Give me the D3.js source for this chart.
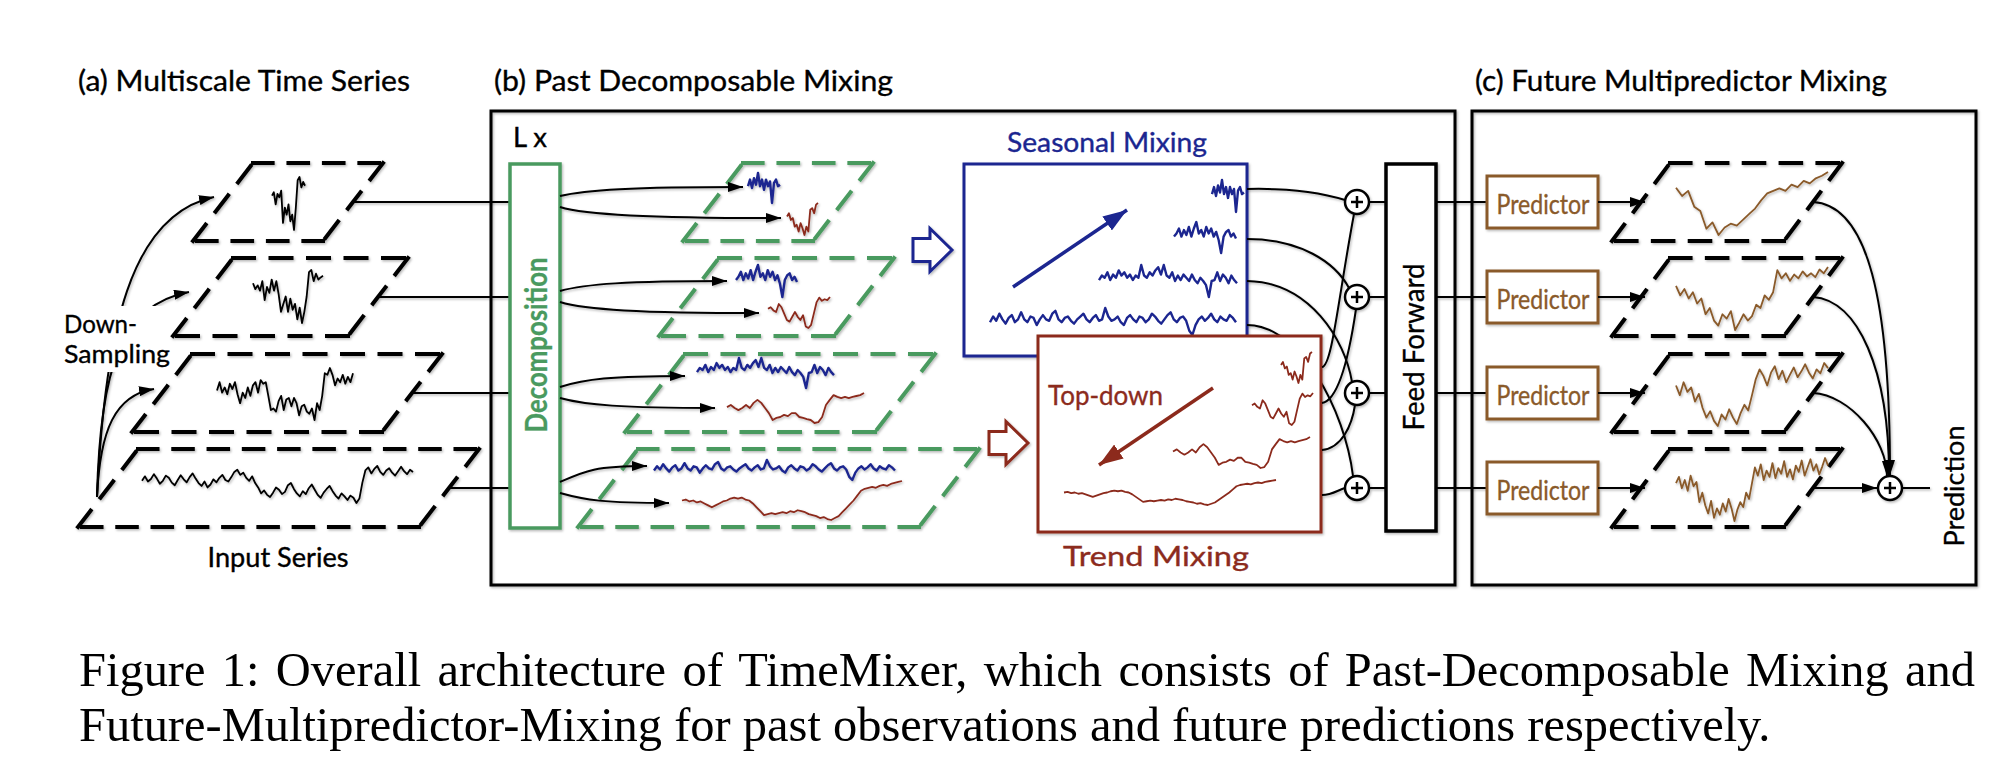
<!DOCTYPE html>
<html>
<head>
<meta charset="utf-8">
<script src="https://cdn.jsdelivr.net/npm/d3@7"></script>
<style>
  html, body { margin: 0; padding: 0; background: #fff; }
  svg { display: block; }
</style>
</head>
<body>
<svg id="fig" width="1992" height="768"></svg>
<script>
// ---------------------------------------------------------------
// Series (arbitrary units, higher = up)
// ---------------------------------------------------------------

// (a) input series, coarsest -> finest
const inputScale1 = [6.6,7.2,5,6.9,6.3,7.5,1.6,4.4,3.1,5,1.9,3.1,0.3,4.4,9.4,10,8.1,9.1,8.4];
const inputScale2 = [7.5,6.4,7.1,6.1,7.9,4.3,6.8,5.7,8.2,6.1,7.9,5.4,2.1,3.6,5,2.1,4.6,2.5,3.6,0.7,2.9,0,2.1,5,9.6,10,7.9,9.3,8.2,8.6,8.9];
const inputScale3 = [5.7,7.3,5.3,6.3,5,7,6,7.3,5,3.3,5.3,4.3,6.3,4.7,6.7,7.3,5.3,7.7,7,7.3,4.7,2,2.3,1.7,3.7,4.7,2,4,4.3,2.7,4.3,3.3,1,2.7,3,1.7,1.3,2.3,0.1,3.3,2,4.7,9,8.7,10,8.7,6.7,8,7.3,8.7,7,8.3,7.3,9];
const inputScale4 = [6,7.2,5.8,6.5,7.8,6.6,5.2,6,7.4,6.8,5.5,4.8,6.2,7.5,6.4,5.6,7,8,6.6,5.4,
  4.6,5.8,4.2,5,6.4,5.6,6.8,7.6,6.2,5.8,7,8.4,9,7.6,8.2,6.8,6,7.2,5.4,4.2,
  2.6,3.4,2.2,1.6,2.8,4.2,3.6,2.4,3,4.8,5.4,3.8,2.6,1.8,3.2,2.4,4,5,3.6,2.2,
  1.4,2.8,3.8,4.6,3.2,2,1.2,2.6,1.8,0.8,2,1.4,0,1.2,
  5.5,8.8,9.6,8,9.2,10,8.4,7.6,8.8,9.4,8.2,7.4,8.6,9.8,8.6,7.8,9,8.4];

// (b) seasonal parts (blue)
const seasonal1 = [5.6,7.8,5,8.3,6.1,10,5.6,7.8,4.4,7.8,5.6,7.2,0,6.7,7.8,5.6,6.1];
const seasonal2 = [5.3,6.3,7.9,5.3,7.4,5.8,8.4,5.3,7.9,10,6.3,7.4,5.3,8.4,6.3,7.9,5.3,6.8,4.2,0,5.3,6.8,7.4,5.3,6.3,4.7];
const seasonal3 = [5.3,6.7,6,7.7,5.3,7,6,8.3,6.7,7.7,6,7,5.3,6.7,6,10,6.7,6,7.7,6.7,8.3,9.3,7,10,6.7,6,7.7,5,6.7,5.3,7,6,5,7,5.3,4.3,6,5,3.7,0,5,5.3,7.7,5,7,6,4.3,6.7,5.3,4.3];
const seasonal4 = [5,7,5.5,8,6,4.5,6.5,7.5,5,6,8.5,6,5,7,6.5,4,6,7.5,6,5.5,8,9,6,5,6.5,7,5.5,4.5,6,7,8,6,5,6.5,7.5,5.5,6,10,7,5.5,6,7,5,4,6.5,7.5,6,5,7,6.5,5,6,8,7,5.5,4.5,6,7.5,8.5,6,5,6.5,7,5.5,2,0.5,4,6,7,5.5,6.5,8,6,5,7,6,5.5,7.5,6.5,5];

// (b) trend parts (red)
const trend1 = [5.8,6.8,4.7,5.3,2.6,3.2,1.1,3.7,2.1,0,2.6,1.1,7.9,8.4,6.8,9.5,10];
const trend2 = [6,6.5,5.5,5,7.5,6.5,4.5,2.5,2,3.5,5,3.5,2.5,4,0.5,0,1,4.5,8,9.5,8.5,9,8.7,9.7];
const trend3 = [5.3,6,5,4.3,5,6,5,6.7,7.7,6.7,5,3.3,1,1.7,2,2.7,2.3,3.3,3.3,2,1.7,1.3,1,0,0.3,2,6,7.7,9.3,8.7,8.3,8.7,8.3,8.7,9,9.3,10];
const trend4 = [5.25,5.5,5,5.25,4.75,5,4.5,4,3.5,4,4.5,5,5.25,5.75,6,5.75,6,5.5,5.25,4.5,3.5,2.5,1.5,1.75,2,1.75,2,2.25,2,2.5,2.25,2.75,2.5,2.25,1.75,1.5,1.25,0.75,1,0.5,0.25,0.75,1.25,2.25,3.25,4.25,5.25,6.5,7.75,8.25,8.5,8.75,8.5,9,9.25,9,9.5,9.75,10,10.25];

// (c) predictions (brown)
const prediction1 = [7.5,6.2,7,4.5,3.8,1,2,0,1.2,1.8,1.5,2.4,3.3,4.2,5.5,6.6,7,7.4,7,8,7.6,8.6,8.2,9,9.4,10];
const prediction2 = [7,5.5,6.5,5,6,4.2,5,2.5,3.5,1.5,0.7,2.5,1.8,3,0,1.2,2.5,1.5,2.2,4,3.5,5.5,4.8,6,9.5,8.2,9,7.8,8.8,8.2,9.3,8.5,9,8.4,9.6,9,10];
const prediction3 = [6.5,5,7,5.5,6.2,4,5.2,3,1.5,2.5,1,0.2,2,1.2,2.8,1.5,0.5,2.2,3.5,2.6,5,7.5,9,8,6.5,8.5,9.5,7.5,8.8,7,8.2,9.3,7.8,8.7,9.8,8.5,7.6,9,8.4,10,9.2];
const prediction4 = [6,7,5.2,6.5,4.8,7.2,5.5,6.2,3,4.5,2.5,1.2,3.2,0.5,2,1,2.8,1.5,3.5,2,0,1.8,3,2.2,4.5,3.5,6,8.5,7.2,9,6.5,8,7,9.2,6.8,8.4,7.5,9.5,7,8.2,6.6,8.8,7.8,9.6,7.2,8.5,9.8,8,9,7.4,8.6,10,8.8];

const inputSeries = [inputScale1, inputScale2, inputScale3, inputScale4];
const seasonalSeries = [seasonal1, seasonal2, seasonal3, seasonal4];
const trendSeries = [trend1, trend2, trend3, trend4];
const predictionSeries = [prediction1, prediction2, prediction3, prediction4];

// labels
const panelTitles = ["(a) Multiscale Time Series", "(b) Past Decomposable Mixing", "(c) Future Multipredictor Mixing"];
const captionLines = [
  "Figure 1: Overall architecture of TimeMixer, which consists of Past-Decomposable Mixing and",
  "Future-Multipredictor-Mixing for past observations and future predictions respectively."
];

// ---------------------------------------------------------------
// Layout
// ---------------------------------------------------------------
const GREEN = "#4a9a5f", BLUE = "#1b2690", RED = "#8c2b1d", BROWN = "#8a5a2a";
const FONT = "Lato, 'Open Sans', 'DejaVu Sans', sans-serif";

const rowY = [202, 297, 393, 488];
const parH = 78, shear = 60;
const aWidths = [130, 175, 250, 341];
const aLeft = [193, 173, 132, 78];
const bLeft = [683, 659, 625, 578];
const cLeft = 1612, cWidth = 172, cShear = 58;

// boxes where each little series is drawn: [x0, x1, yTop, yBottom]
const aBox = [[272,305,177,230],[253,323,270,323],[217,353,368,420],[142,413,466,503]];
const bBlueBox = [[748,780,173,203],[736,797,265,297],[697,834,358,388],[654,895,460,480]];
const bRedBox = [[787,818,203,235],[768,830,297,328],[727,864,393,423],[682,902,481,520]];
const sBox = [[1212,1244,180,212],[1174,1236,222,253],[1099,1237,265,297],[990,1236,308,335]];
const tBox = [[1281,1312,352,383],[1252,1313,393,425],[1173,1310,437,468],[1064,1276,480,505]];

const svg = d3.select("#fig");
const defs = svg.append("defs");

defs.append("filter").attr("id", "shadow")
  .attr("x", "-20%").attr("y", "-20%").attr("width", "140%").attr("height", "140%")
  .append("feDropShadow")
  .attr("dx", 1.2).attr("dy", 1.5).attr("stdDeviation", 1.2)
  .attr("flood-color", "#000").attr("flood-opacity", 0.28);

function marker(id, color, len, wid) {
  defs.append("marker").attr("id", id)
    .attr("viewBox", `0 0 ${len} ${wid}`)
    .attr("refX", len).attr("refY", wid / 2)
    .attr("markerWidth", len).attr("markerHeight", wid)
    .attr("markerUnits", "userSpaceOnUse")
    .attr("orient", "auto")
    .append("path")
    .attr("d", `M0,0L${len},${wid / 2}L0,${wid}Z`)
    .attr("fill", color);
}
marker("arrowK", "#000", 15, 10);
marker("arrowB", BLUE, 24, 17);
marker("arrowR", RED, 24, 17);

// helpers ---------------------------------------------------------
function drawSeries(g, values, box, color, width) {
  const [x0, x1, y0, y1] = box;
  const x = d3.scaleLinear().domain([0, values.length - 1]).range([x0, x1]);
  const y = d3.scaleLinear().domain(d3.extent(values)).range([y1, y0]);
  g.append("path")
    .datum(values)
    .attr("d", d3.line().x((d, i) => x(i)).y(d => y(d)))
    .attr("fill", "none")
    .attr("stroke", color)
    .attr("stroke-width", width)
    .attr("stroke-linejoin", "round");
}

function dashedEdge(g, p, q, color, w) {
  const L = Math.hypot(q[0] - p[0], q[1] - p[1]);
  const d0 = 24, g0 = 12;
  const n = Math.max(1, Math.round((L - d0) / (d0 + g0)));
  const k = L / (n * (d0 + g0) + d0);
  g.append("line")
    .attr("x1", p[0]).attr("y1", p[1])
    .attr("x2", q[0]).attr("y2", q[1])
    .attr("stroke", color)
    .attr("stroke-width", w)
    .attr("stroke-linecap", "square")
    .attr("stroke-dasharray", `${d0 * k - w} ${g0 * k + w}`);
}

function parallelogram(g, xBL, yC, w, sh, color) {
  const top = yC - parH / 2, bot = yC + parH / 2;
  const pts = [[xBL + sh, top], [xBL + sh + w, top], [xBL + w, bot], [xBL, bot]];
  for (let i = 0; i < 4; i++) dashedEdge(g, pts[i], pts[(i + 1) % 4], color, 4);
}

// text with a given font size, squeezed/stretched to the width seen in the figure
function label(g, text, x, y, size, target, color, opts = {}) {
  const t = g.append("text")
    .attr("x", opts.rotate ? 0 : x)
    .attr("y", opts.rotate ? 0 : y)
    .attr("font-family", FONT)
    .attr("font-size", size)
    .attr("font-weight", opts.weight || 400)
    .attr("fill", color)
    .attr("stroke", color)
    .attr("stroke-width", opts.stroke ?? 0.35)
    .attr("text-anchor", opts.anchor || "start")
    .attr("textLength", target)
    .attr("lengthAdjust", "spacingAndGlyphs")
    .text(text);
  if (opts.rotate) {
    t.attr("transform", `translate(${x},${y}) rotate(-90)`)
     .attr("dominant-baseline", "central");
  }
  if (opts.central) t.attr("dominant-baseline", "central");
  return t;
}

function curve(g, p0, p1, p2, p3, mk, color = "#000", w = 2) {
  const path = d3.path();
  path.moveTo(...p0);
  path.bezierCurveTo(...p1, ...p2, ...p3);
  const el = g.append("path")
    .attr("d", path.toString())
    .attr("fill", "none")
    .attr("stroke", color)
    .attr("stroke-width", w);
  if (mk) el.attr("marker-end", `url(#${mk})`);
  return el;
}

function blockArrow(g, x, yC, color) {
  const pts = [[x, yC - 11.5], [x + 17, yC - 11.5], [x + 17, yC - 21.5], [x + 39, yC],
               [x + 17, yC + 21.5], [x + 17, yC + 11.5], [x, yC + 11.5]];
  g.append("path")
    .attr("d", d3.line()(pts) + "Z")
    .attr("fill", "#fff").attr("stroke", color).attr("stroke-width", 3)
    .attr("stroke-linejoin", "miter");
}

function plusCircle(g, cx, cy) {
  g.append("circle").attr("cx", cx).attr("cy", cy).attr("r", 12)
    .attr("fill", "#fff").attr("stroke", "#000").attr("stroke-width", 2.5);
  g.append("path")
    .attr("d", `M${cx - 6},${cy}H${cx + 6}M${cx},${cy - 6}V${cy + 6}`)
    .attr("stroke", "#000").attr("stroke-width", 2.5);
}

const shapes = svg.append("g").attr("filter", "url(#shadow)");
const texts = svg.append("g");

// ---------------------------------------------------------------
// Panel frames
// ---------------------------------------------------------------
shapes.append("rect").attr("x", 491).attr("y", 111).attr("width", 964).attr("height", 474)
  .attr("fill", "none").attr("stroke", "#000").attr("stroke-width", 3);
shapes.append("rect").attr("x", 1472).attr("y", 111).attr("width", 504).attr("height", 474)
  .attr("fill", "none").attr("stroke", "#000").attr("stroke-width", 3);

label(texts, panelTitles[0], 78, 91, 29, 332, "#000");
label(texts, panelTitles[1], 494, 91, 29, 399, "#000");
label(texts, panelTitles[2], 1475, 91, 29, 412, "#000");

// ---------------------------------------------------------------
// (a) Multiscale time series
// ---------------------------------------------------------------
const down = shapes.append("g");
curve(down, [97, 497], [105, 330], [130, 215], [214, 197], "arrowK");
curve(down, [97, 497], [100, 370], [120, 305], [189, 292], "arrowK");
curve(down, [97, 497], [100, 430], [115, 395], [154, 389], "arrowK");
svg.append("rect").attr("x", 60).attr("y", 306).attr("width", 113).attr("height", 66).attr("fill", "#fff");
label(svg, "Down-", 64, 333, 25, 73, "#000");
label(svg, "Sampling", 64, 363, 25, 106, "#000");

const aG = svg.append("g").attr("filter", "url(#shadow)");
inputSeries.forEach((vals, i) => {
  parallelogram(aG, aLeft[i], rowY[i], aWidths[i], shear, "#000");
  drawSeries(aG, vals, aBox[i], "#000", 1.8);
  // link into decomposition block
  aG.append("line")
    .attr("x1", aLeft[i] + aWidths[i] + shear / 2).attr("x2", 510)
    .attr("y1", rowY[i]).attr("y2", rowY[i])
    .attr("stroke", "#000").attr("stroke-width", 2);
});
label(texts, "Input Series", 278, 567, 26, 141, "#000", { anchor: "middle" });

// ---------------------------------------------------------------
// (b) Past decomposable mixing
// ---------------------------------------------------------------
label(texts, "L x", 513, 147, 27, 34, "#000");

const bG = svg.append("g").attr("filter", "url(#shadow)");
bG.append("rect").attr("x", 510).attr("y", 164).attr("width", 50).attr("height", 364)
  .attr("fill", "#fff").attr("stroke", GREEN).attr("stroke-width", 3.5);
label(svg, "Decomposition", 535, 345, 30, 175, GREEN, { rotate: true, anchor: "middle", weight: 700, stroke: 0.3 });

const tipsUp = [[743, 187], [727, 281], [685, 376], [647, 466]];
const tipsDown = [[781, 218], [759, 313], [715, 408], [669, 503]];

rowY.forEach((yc, i) => {
  parallelogram(bG, bLeft[i], yc, aWidths[i], shear, GREEN);
});
rowY.forEach((yc, i) => {
  [[yc - 6, tipsUp[i]], [yc + 5, tipsDown[i]]].forEach(([sy, [tx, ty]]) => {
    curve(bG, [560, sy], [585, sy + (ty - sy) * 0.7], [560 + (tx - 560) * 0.4, ty], [tx, ty], "arrowK");
  });
  drawSeries(bG, seasonalSeries[i], bBlueBox[i], BLUE, 2.4);
  drawSeries(bG, trendSeries[i], bRedBox[i], RED, 1.8);
});

blockArrow(bG, 913, 250, BLUE);
blockArrow(bG, 989, 443, RED);

// Seasonal mixing block
const sG = svg.append("g").attr("filter", "url(#shadow)");
sG.append("rect").attr("x", 964).attr("y", 164).attr("width", 283).attr("height", 192)
  .attr("fill", "#fff").attr("stroke", BLUE).attr("stroke-width", 3);
seasonalSeries.forEach((vals, i) => drawSeries(sG, vals, sBox[i], BLUE, 2.4));
sG.append("line").attr("x1", 1013).attr("y1", 287).attr("x2", 1127).attr("y2", 210)
  .attr("stroke", BLUE).attr("stroke-width", 3.5).attr("marker-end", "url(#arrowB)");
label(texts, "Seasonal Mixing", 1007, 152, 26, 200, BLUE);
label(texts, "Bottom-up", 975, 223, 26, 118, BLUE);

// seasonal -> sum nodes (drawn before the trend block, which hides part of the last one)
const links = svg.append("g").attr("filter", "url(#shadow)");
curve(links, [1247, 189], [1290, 188], [1320, 192], [1345, 200]);
curve(links, [1247, 239], [1300, 239], [1335, 262], [1349, 288]);
curve(links, [1247, 281], [1310, 282], [1345, 340], [1352, 382]);
curve(links, [1247, 325], [1300, 325], [1345, 410], [1353, 476]);

// Trend mixing block
const tG = svg.append("g").attr("filter", "url(#shadow)");
tG.append("rect").attr("x", 1038).attr("y", 336).attr("width", 283).attr("height", 196)
  .attr("fill", "#fff").attr("stroke", RED).attr("stroke-width", 3);
trendSeries.forEach((vals, i) => drawSeries(tG, vals, tBox[i], RED, 1.8));
tG.append("line").attr("x1", 1213).attr("y1", 388).attr("x2", 1099).attr("y2", 465)
  .attr("stroke", RED).attr("stroke-width", 3.5).attr("marker-end", "url(#arrowR)");
label(svg, "Top-down", 1048, 405, 26, 115, RED);
label(texts, "Trend Mixing", 1156, 566, 26, 186, RED, { anchor: "middle" });

// trend -> sum nodes
const links2 = svg.append("g").attr("filter", "url(#shadow)");
curve(links2, [1322, 367], [1332, 366], [1338, 300], [1354, 214]);
curve(links2, [1322, 403], [1340, 400], [1350, 350], [1356, 309]);
curve(links2, [1322, 450], [1342, 448], [1352, 425], [1355, 405]);
curve(links2, [1322, 495], [1332, 495], [1338, 490], [1345, 488]);

const nodes = svg.append("g").attr("filter", "url(#shadow)");
rowY.forEach(yc => {
  nodes.append("line").attr("x1", 1369).attr("x2", 1386).attr("y1", yc).attr("y2", yc)
    .attr("stroke", "#000").attr("stroke-width", 2);
  nodes.append("line").attr("x1", 1436).attr("x2", 1487).attr("y1", yc).attr("y2", yc)
    .attr("stroke", "#000").attr("stroke-width", 2);
  plusCircle(nodes, 1357, yc);
});

// Feed forward
nodes.append("rect").attr("x", 1386).attr("y", 164).attr("width", 50).attr("height", 367)
  .attr("fill", "#fff").attr("stroke", "#000").attr("stroke-width", 3.5);
label(svg, "Feed Forward", 1412, 347, 29, 167, "#000", { rotate: true, anchor: "middle" });

// ---------------------------------------------------------------
// (c) Future multipredictor mixing
// ---------------------------------------------------------------
const cG = svg.append("g").attr("filter", "url(#shadow)");
const cText = svg.append("g");
rowY.forEach((yc, i) => {
  cG.append("rect").attr("x", 1487).attr("y", yc - 26).attr("width", 111).attr("height", 52)
    .attr("fill", "#fff").attr("stroke", BROWN).attr("stroke-width", 3);
  label(cText, "Predictor", 1543, yc + 1, 27, 93, BROWN, { anchor: "middle", central: true });
  cG.append("line").attr("x1", 1598).attr("x2", 1645).attr("y1", yc).attr("y2", yc)
    .attr("stroke", "#000").attr("stroke-width", 2).attr("marker-end", "url(#arrowK)");
  parallelogram(cG, cLeft, yc, cWidth, cShear, "#000");
  drawSeries(cG, predictionSeries[i], [1676, 1828, yc - 30, yc + 33], BROWN, 1.8);
});

const outX = cLeft + cWidth + cShear / 2;
const sumX = 1890, sumY = rowY[3];
curve(cG, [outX, rowY[0]], [1868, rowY[0] + 3], [sumX, 300], [sumX, sumY - 13], "arrowK");
curve(cG, [outX, rowY[1]], [1858, rowY[1] + 3], [sumX - 1, 370], [sumX - 1, sumY - 13], "arrowK");
curve(cG, [outX, rowY[2]], [1850, rowY[2] + 2], [sumX - 3, 440], [sumX - 3, sumY - 12], "arrowK");
cG.append("line").attr("x1", outX).attr("x2", sumX - 13).attr("y1", sumY).attr("y2", sumY)
  .attr("stroke", "#000").attr("stroke-width", 2).attr("marker-end", "url(#arrowK)");
cG.append("line").attr("x1", sumX + 12).attr("x2", 1930).attr("y1", sumY).attr("y2", sumY)
  .attr("stroke", "#000").attr("stroke-width", 2);
plusCircle(cG, sumX, sumY);
label(svg, "Prediction", 1953, 486, 27, 121, "#000", { rotate: true, anchor: "middle" });

// ---------------------------------------------------------------
// Caption: first line set close to its natural width, then justified to the figure width
// ---------------------------------------------------------------
const capFont = "'Liberation Serif', 'Times New Roman', serif";
const cap1 = svg.append("text")
  .attr("x", 79).attr("y", 686)
  .attr("font-family", capFont)
  .attr("font-size", 40).attr("fill", "#000")
  .text(captionLines[0]);
const len40 = cap1.node().getComputedTextLength();
const capSize = 40 * 1850 / len40;
cap1.attr("font-size", capSize);
const natural = cap1.node().getComputedTextLength();
const spaces = captionLines[0].split(" ").length - 1;
cap1.attr("word-spacing", (1896 - natural) / spaces);

svg.append("text")
  .attr("x", 79).attr("y", 741)
  .attr("font-family", capFont)
  .attr("font-size", capSize).attr("fill", "#000")
  .text(captionLines[1]);
</script>
</body>
</html>
